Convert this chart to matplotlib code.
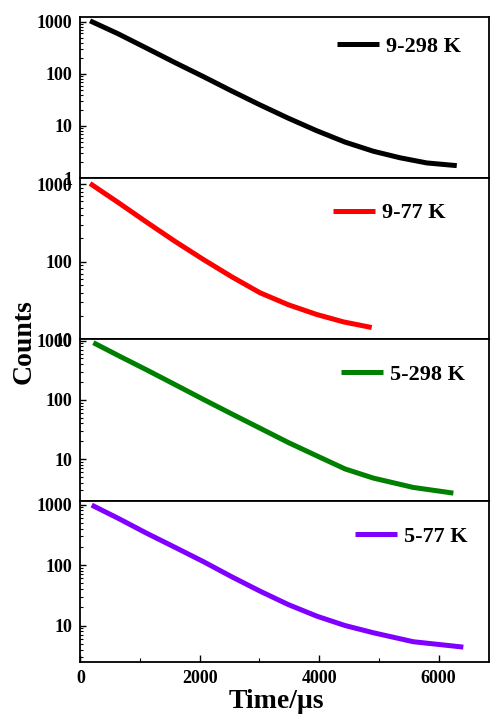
import matplotlib
matplotlib.use("Agg")
import matplotlib.pyplot as plt
from matplotlib.ticker import FuncFormatter, NullFormatter, MultipleLocator

plt.rcParams['font.family'] = ['Liberation Serif', 'DejaVu Serif']
plt.rcParams['font.weight'] = 'bold'

# decay curves, time in microseconds, counts read per sample
t_9_298 = [162, 637, 1112, 1586, 2060, 2536, 3010, 3484, 3960, 4434, 4908, 5355, 5802, 6305]
c_9_298 = [1050, 588, 312, 165, 89, 47, 25.4, 14.1, 8.1, 4.9, 3.27, 2.45, 1.95, 1.73]

t_9_77 = [162, 637, 1112, 1586, 2060, 2536, 3010, 3484, 3960, 4405, 4880]
c_9_77 = [1020, 578, 323, 183, 107, 64, 39.8, 27.9, 20.9, 16.8, 14.2]

t_5_298 = [218, 665, 1112, 1586, 2060, 2536, 3010, 3484, 3960, 4434, 4908, 5578, 6248]
c_5_298 = [922, 540, 320, 181, 102, 58, 33.3, 19.1, 11.4, 6.85, 4.8, 3.34, 2.68]

t_5_77 = [190, 637, 1112, 1586, 2060, 2536, 3010, 3484, 3960, 4434, 4908, 5578, 6415]
c_5_77 = [980, 590, 335, 196, 114, 64, 37, 22.2, 14.3, 10.0, 7.6, 5.4, 4.4]

labels = ['9-298 K', '9-77 K', '5-298 K', '5-77 K']
colors = ['black', '#ff0000', '#008000', '#8000ff']
ylims = [(1, 1260), (10, 1200), (2, 1050), (2.5, 1160)]
legend_pos = [(0.627, 0.815), (0.618, 0.783), (0.637, 0.782), (0.672, 0.779)]

series = [(t_9_298, c_9_298), (t_9_77, c_9_77), (t_5_298, c_5_298), (t_5_77, c_5_77)]

fig, axes = plt.subplots(4, 1, sharex=True, figsize=(4.93, 7.2), dpi=100)
fig.subplots_adjust(left=0.163, right=0.9925, top=0.9768, bottom=0.0806, hspace=0)

for i, ax in enumerate(axes):
    t, c = series[i]
    ax.plot(t, c, color=colors[i], lw=3.6, solid_capstyle='butt',
            solid_joinstyle='round', label=labels[i])
    ax.set_yscale('log')
    ax.set_ylim(*ylims[i])
    ax.set_xlim(0, 6850)
    ax.yaxis.set_major_formatter(FuncFormatter(lambda v, p: f"{v:g}"))
    ax.yaxis.set_minor_formatter(NullFormatter())
    ax.tick_params(axis='y', which='major', direction='in', length=4.3, width=1, pad=6, labelsize=13)
    ax.tick_params(axis='y', which='minor', direction='in', length=2.4, width=0.8)
    for s in ax.spines.values():
        s.set_linewidth(1.3)
    ax.legend(loc='center left', bbox_to_anchor=legend_pos[i], frameon=False,
              borderpad=0, borderaxespad=0, handlelength=1.9, handletextpad=0.3,
              prop={'family': 'Liberation Serif', 'weight': 'bold', 'size': 16})
    if i < 3:
        ax.tick_params(axis='x', which='both', direction='in', length=1, width=0.5)

axes[-1].xaxis.set_major_locator(MultipleLocator(2000))
axes[-1].xaxis.set_minor_locator(MultipleLocator(1000))
axes[-1].tick_params(axis='x', which='major', direction='in', length=5, width=1, pad=6, labelsize=13)
axes[-1].tick_params(axis='x', which='minor', direction='in', length=3, width=0.8)

fig.text(0.049, 0.525, 'Counts', rotation=90, ha='center', va='center', fontsize=20, fontweight='bold')
fig.text(0.56, 0.025, 'Time/μs', ha='center', va='center', fontsize=20, fontweight='bold')

fig.savefig('out.png', dpi=100)
